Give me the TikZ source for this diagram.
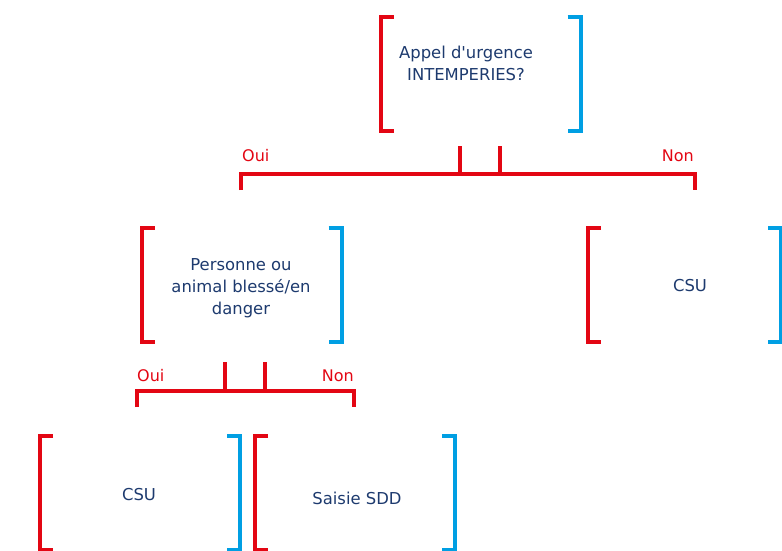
\documentclass[tikz,border=0pt]{standalone}
\usepackage{fontspec}
\setmainfont{DejaVu Sans}[Ligatures=TeXOff]
\definecolor{bred}{HTML}{E30613}
\definecolor{bblue}{HTML}{009FE3}
\definecolor{txtblue}{HTML}{1D3A6E}
% red bracket on the left, blue one on the right of a box node
\newcommand{\brackets}[1]{%
  \draw[bred,bracketline] ([xshift=13pt]#1.north west) -| (#1.south west) -- ++(13pt,0);
  \draw[bblue,bracketline] ([xshift=-13pt]#1.north east) -| (#1.south east) -- ++(-13pt,0);
}
\tikzset{
  bracketline/.style={line width=4pt},
  box/.style={minimum width=200pt,minimum height=114pt,inner sep=0pt,outer sep=0pt},
  txt/.style={text=txtblue,align=center,inner sep=0pt,font=\fontsize{16.4}{22}\selectfont},
  fork/.style={bred,line width=3.8pt},
  lbl/.style={text=bred,inner sep=0pt,font=\fontsize{16}{18}\selectfont}
}

\begin{document}
\begin{tikzpicture}[x=1pt,y=-1pt]
  \useasboundingbox (0,0) rectangle (782,550);

  % first question
  \node[box] (appel) at (480.5,73.5) {};
  \node[txt] (appel-txt) at (466,63) {Appel d'urgence\\INTEMPERIES?};
  \brackets{appel}

  \coordinate (f1-l) at (241,174);
  \coordinate (f1-r) at (695,174);
  \draw[fork] (460,146) -- (460,174);
  \draw[fork] (500,146) -- (500,174);
  \draw[fork] ([yshift=-16pt]f1-l) -- (f1-l) -- (f1-r) -- ([yshift=-16pt]f1-r);
  \node[lbl,anchor=base west] (f1-oui) at (242,161) {Oui};
  \node[lbl,anchor=base east] (f1-non) at (694,161) {Non};

  % second row
  \node[box] (danger) at (241.5,284.5) {};
  \node[txt] (danger-txt) at (241,288) {Personne ou\\animal blessé/en\\danger};
  \brackets{danger}
  \node[box,minimum width=193pt] (csu1) at (684.5,284.5) {};
  \node[txt] (csu1-txt) at (690,286) {CSU};
  \brackets{csu1}

  \coordinate (f2-l) at (137,391);
  \coordinate (f2-r) at (354,391);
  \draw[fork] (225,362) -- (225,391);
  \draw[fork] (265,362) -- (265,391);
  \draw[fork] ([yshift=-16pt]f2-l) -- (f2-l) -- (f2-r) -- ([yshift=-16pt]f2-r);
  \node[lbl,anchor=base west] (f2-oui) at (137,381) {Oui};
  \node[lbl,anchor=base east] (f2-non) at (354,381) {Non};

  % third row
  \node[box] (csu2) at (140,492.5) {};
  \node[txt] (csu2-txt) at (139,495) {CSU};
  \brackets{csu2}
  \node[box] (sdd) at (355,492.5) {};
  \node[txt] (sdd-txt) at (357,498) {Saisie SDD};
  \brackets{sdd}
\end{tikzpicture}
\end{document}
